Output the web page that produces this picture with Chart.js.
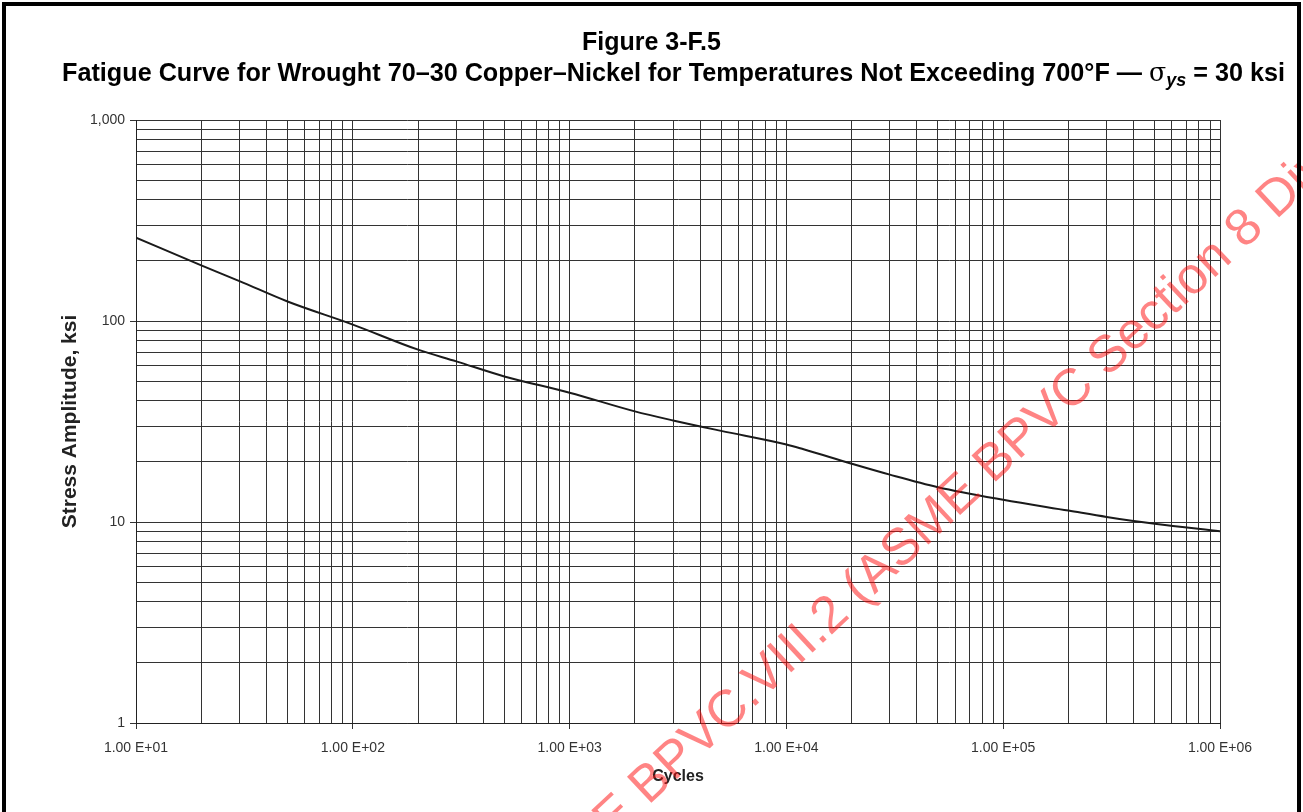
<!DOCTYPE html>
<html>
<head>
<meta charset="utf-8">
<title>Figure 3-F.5</title>
<script src="https://cdn.jsdelivr.net/npm/chart.js@4.4.1/dist/chart.umd.min.js"></script>
<style>
    html, body { margin: 0; padding: 0; background: #fff; overflow: hidden; }
    #wrap { position: absolute; left: 0; top: 0; width: 1303px; height: 812px; }
    #frame { position: absolute; left: 2px; top: 2px; width: 1291px; height: 840px; border: 4px solid #000; border-bottom: none; }
    #title { position: absolute; left: 0; top: 26px; width: 1303px; text-align: center;
             font-family: "Liberation Sans", Arial, sans-serif; font-weight: bold; font-size: 25px;
             line-height: 31px; color: #000; }
    #title .line2 { position: relative; left: 22px; font-size: 25.2px; }
    .sig { font-family: "DejaVu Serif", serif; font-weight: normal; }
    .sub { position: relative; top: 5px; font-size: 18px; font-style: italic; font-weight: bold; }
</style>
</head>
<body>
<div id="wrap"><canvas id="fatigueChart"></canvas></div>
<div id="frame"></div>
<div id="title">Figure 3-F.5<br><span class="line2">Fatigue Curve for Wrought 70–30 Copper–Nickel for Temperatures Not Exceeding 700°F — <span class="sig">σ</span><span class="sub">ys</span> = 30 ksi</span></div>

<script>
// Data kurva fatik
const cycles = [10, 20, 30, 50, 100, 200, 300, 500, 1000, 2000, 3000, 5000, 10000, 12000, 20000, 30000, 50000, 100000, 200000, 300000, 500000, 1000000];
const stressKsi = [260, 189, 158, 125, 96, 72, 63, 53, 44, 35.5, 32, 28.4, 24.3, 23, 19.5, 17.2, 14.9, 12.9, 11.4, 10.6, 9.8, 9.0];

// Label sumbu
const xTickValues = [10, 100, 1000, 10000, 100000, 1000000];
const xTickLabels = ['1.00 E+01', '1.00 E+02', '1.00 E+03', '1.00 E+04', '1.00 E+05', '1.00 E+06'];
const yTickValues = [1, 10, 100, 1000];
const yTickLabels = ['1', '10', '100', '1,000'];

const watermarkText = 'ASME BPVC.VIII.2 (ASME BPVC Section 8 Division 2) 2023';

// grid log: 1..9 x 10^n
function logGrid(min, max) {
    const out = [];
    for (let d = min; d < max; d *= 10) {
        for (let k = 1; k < 10; k++) out.push({ value: k * d });
    }
    out.push({ value: max });
    return out;
}

function isMajor(v, majors) {
    return majors.some(m => Math.abs(v - m) / m < 1e-6);
}

function labelFor(v, majors, labels) {
    const i = majors.findIndex(m => Math.abs(v - m) / m < 1e-6);
    return i >= 0 ? labels[i] : '';
}

// Watermark merah miring di atas grafik
const watermarkPlugin = {
    id: 'watermark',
    afterDraw(chart) {
        const ctx = chart.ctx;
        ctx.save();
        ctx.translate(530, 916);
        ctx.rotate(-43 * Math.PI / 180);
        ctx.font = '52px "Liberation Sans", Arial, sans-serif';
        ctx.fillStyle = 'rgba(255, 10, 10, 0.5)';
        ctx.textBaseline = 'alphabetic';
        ctx.fillText(watermarkText, 0, 0);
        ctx.restore();
    }
};

const ctx = document.getElementById('fatigueChart').getContext('2d');
const tickFont = { family: '"Liberation Sans", Arial, sans-serif', size: 14 };

const fatigueChart = new Chart(ctx, {
    type: 'line',
    data: {
        datasets: [{
            data: cycles.map((c, i) => ({ x: c, y: stressKsi[i] })),
            borderColor: '#1a1a1a',
            borderWidth: 2,
            pointRadius: 0,
            fill: false,
            cubicInterpolationMode: 'monotone'
        }]
    },
    options: {
        responsive: true,
        maintainAspectRatio: false,
        animation: false,
        layout: { padding: { left: 0, top: 120, right: 83, bottom: 0 } },
        plugins: {
            legend: { display: false },
            tooltip: { enabled: false }
        },
        scales: {
            x: {
                type: 'logarithmic',
                min: 10,
                max: 1000000,
                afterBuildTicks: scale => { scale.ticks = logGrid(10, 1000000); },
                afterFit: scale => { scale.height = 89; },
                ticks: {
                    autoSkip: false,
                    maxRotation: 0,
                    padding: 11,
                    color: '#333',
                    font: tickFont,
                    callback: v => labelFor(v, xTickValues, xTickLabels)
                },
                grid: {
                    color: '#333',
                    lineWidth: 1,
                    tickLength: 6,
                    tickColor: c => (c.tick && isMajor(c.tick.value, xTickValues)) ? '#333' : 'rgba(0,0,0,0)'
                },
                border: { color: '#222' },
                title: {
                    display: true,
                    text: 'Cycles',
                    color: '#222',
                    font: { family: '"Liberation Sans", Arial, sans-serif', size: 16, weight: 'bold' },
                    padding: { top: 0, bottom: 26 }
                }
            },
            y: {
                type: 'logarithmic',
                min: 1,
                max: 1000,
                afterBuildTicks: scale => { scale.ticks = logGrid(1, 1000); },
                afterFit: scale => { scale.width = 136; },
                ticks: {
                    autoSkip: false,
                    padding: 5,
                    color: '#333',
                    font: tickFont,
                    callback: v => labelFor(v, yTickValues, yTickLabels)
                },
                grid: {
                    color: '#333',
                    lineWidth: 1,
                    tickLength: 6,
                    tickColor: c => (c.tick && isMajor(c.tick.value, yTickValues)) ? '#333' : 'rgba(0,0,0,0)'
                },
                border: { color: '#222' },
                title: {
                    display: true,
                    text: 'Stress Amplitude, ksi',
                    color: '#222',
                    font: { family: '"Liberation Sans", Arial, sans-serif', size: 21, weight: 'bold' },
                    padding: { top: 58, bottom: 0 }
                }
            }
        }
    },
    plugins: [watermarkPlugin]
});
</script>
</body>
</html>
